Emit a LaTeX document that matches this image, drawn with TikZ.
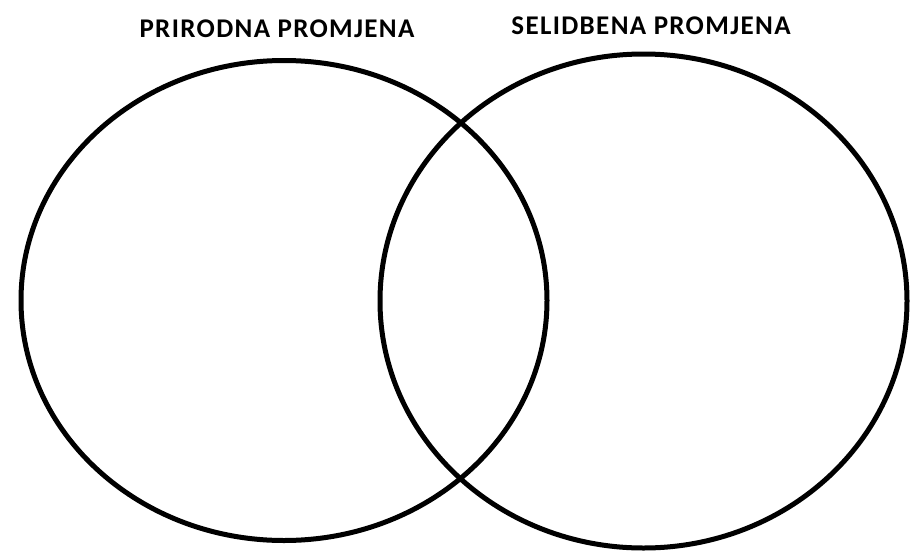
\documentclass[tikz,border=0pt]{standalone}
\usepackage{fontspec}
\setmainfont{Carlito}
\newfontfamily\labelfont[LetterSpace=5]{Carlito}
\tikzset{set/.style={line width=5pt,black}}
\tikzset{setname/.style={font=\labelfont\fontsize{27}{29}\selectfont\bfseries,inner sep=0pt}}

\begin{document}
\begin{tikzpicture}[x=1pt,y=-1pt]
\useasboundingbox (0,0) rectangle (911,552);
\coordinate (L) at (284,300.5);
\coordinate (R) at (643.5,301);
\draw[set] (L) ellipse [x radius=263, y radius=240];
\draw[set] (R) ellipse [x radius=263.5, y radius=247];

\node[setname] (prirodna) at (277,29) {PRIRODNA PROMJENA};
\node[setname] (selidbena) at (651,25.5) {SELIDBENA PROMJENA};
\end{tikzpicture}
\end{document}
